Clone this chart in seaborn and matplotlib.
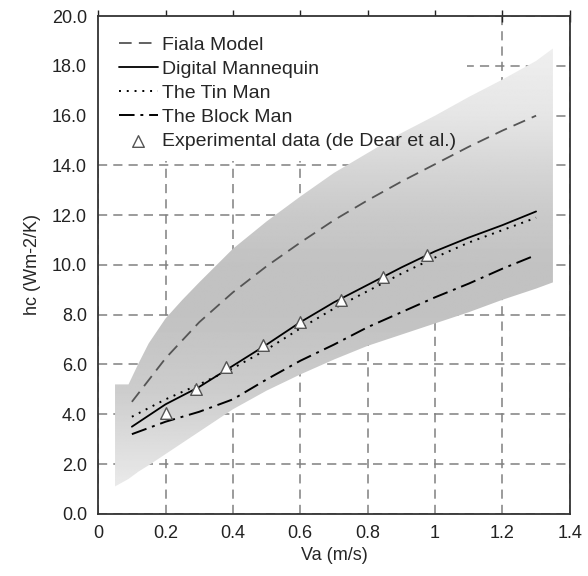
import numpy as np
import matplotlib
matplotlib.use("Agg")
import matplotlib.pyplot as plt
from matplotlib.patches import Rectangle
from matplotlib.ticker import FuncFormatter, MultipleLocator
import seaborn as sns

# Air velocity grid used by the model curves (m/s)
va = [0.1, 0.2, 0.3, 0.4, 0.5, 0.6, 0.7, 0.8, 0.9, 1.0, 1.1, 1.2, 1.3]

# Convective heat transfer coefficient
hc_fiala = [4.5, 6.25, 7.7, 8.9, 9.95, 10.9, 11.8, 12.6, 13.35, 14.05, 14.75, 15.4, 16.0]
hc_digital = [3.5, 4.4, 5.1, 5.95, 6.8, 7.7, 8.5, 9.2, 9.9, 10.55, 11.1, 11.6, 12.15]
hc_tin = [3.9, 4.6, 5.2, 5.85, 6.6, 7.45, 8.25, 8.95, 9.65, 10.3, 10.9, 11.4, 11.9]
hc_block = [3.2, 3.7, 4.1, 4.6, 5.4, 6.15, 6.8, 7.5, 8.1, 8.7, 9.25, 9.85, 10.4]

# Experimental data (de Dear et al.)
va_exp = [0.2, 0.29, 0.38, 0.49, 0.6, 0.72, 0.845, 0.975]
hc_exp = [4.05, 5.0, 5.9, 6.8, 7.7, 8.6, 9.5, 10.4]

# Shaded range band
va_band = [0.05, 0.09, 0.12, 0.15, 0.2, 0.25, 0.3, 0.4, 0.5, 0.6, 0.7, 0.8,
           0.9, 1.0, 1.1, 1.2, 1.3, 1.35]
band_low = [1.1, 1.4, 1.7, 1.95, 2.4, 2.85, 3.3, 4.2, 4.95, 5.6, 6.2, 6.75,
            7.2, 7.65, 8.1, 8.6, 9.05, 9.3]
band_high = [5.2, 5.2, 6.05, 6.85, 7.85, 8.6, 9.3, 10.65, 11.75, 12.75, 13.7, 14.5,
             15.3, 16.0, 16.75, 17.45, 18.2, 18.7]

labels = ["Fiala Model", "Digital Mannequin", "The Tin Man", "The Block Man",
          "Experimental data (de Dear et al.)"]

sns.set_style("white")
plt.rcParams["font.family"] = ["Liberation Sans", "DejaVu Sans"]

fig = plt.figure(figsize=(5.88, 5.76), dpi=100)
ax = fig.add_axes([0.167, 0.108, 0.802, 0.864])

# grey band with a vertical gradient, clipped to the band outline
band = ax.fill_between(va_band, band_low, band_high, facecolor="none", edgecolor="none")
ys = np.linspace(0, 20, 400)
stops_y = [1, 3, 5, 8, 10, 12, 14, 16, 19]
stops_g = [0.92, 0.86, 0.80, 0.76, 0.76, 0.79, 0.84, 0.90, 0.94]
grad = np.interp(ys, stops_y, stops_g)[:, None] * np.ones((1, 2))
img = ax.imshow(grad, cmap="gray", vmin=0, vmax=1, origin="lower", aspect="auto",
                extent=[va_band[0], va_band[-1], 0, 20], zorder=1, interpolation="bilinear")
img.set_clip_path(band.get_paths()[0], transform=ax.transData)

sns.lineplot(x=va, y=hc_fiala, ax=ax, color="#555555", lw=1.3,
             linestyle=(0, (7, 4)), label=labels[0], zorder=3)
sns.lineplot(x=va, y=hc_digital, ax=ax, color="black", lw=1.3,
             linestyle="-", label=labels[1], zorder=3)
sns.lineplot(x=va, y=hc_tin, ax=ax, color="black", lw=1.4,
             linestyle=(0, (1, 3)), label=labels[2], zorder=3)
sns.lineplot(x=va, y=hc_block, ax=ax, color="black", lw=1.4,
             linestyle=(0, (8, 3, 1.5, 3)), label=labels[3], zorder=3)
sns.scatterplot(x=va_exp, y=hc_exp, ax=ax, marker="^", s=70, color="white",
                edgecolor="#555555", linewidth=1.0, label=labels[4], zorder=4)

ax.set_xlim(0, 1.4)
ax.set_ylim(0, 20)
ax.xaxis.set_major_locator(MultipleLocator(0.2))
ax.yaxis.set_major_locator(MultipleLocator(2))
ax.xaxis.set_major_formatter(FuncFormatter(lambda v, p: f"{v:g}"))
ax.yaxis.set_major_formatter(FuncFormatter(lambda v, p: f"{v:.1f}"))

ax.set_axisbelow(True)
ax.grid(True, color="#808080", linestyle=(0, (6, 4)), linewidth=1.1)

ax.tick_params(axis="x", which="both", direction="inout", length=9, width=1,
               top=True, labelsize=13, colors="#222222")
ax.tick_params(axis="y", direction="inout", length=9, width=1,
               labelsize=13, colors="#222222")
for side, sp in ax.spines.items():
    sp.set_color("#333333")
    sp.set_linewidth(1.3)

ax.set_xlabel("Va (m/s)", fontsize=13, labelpad=4)
ax.set_ylabel("hc (Wm-2/K)", fontsize=13, labelpad=8)

leg = ax.legend(loc="upper left", frameon=False, fontsize=14, handlelength=2.0,
                handletextpad=0.25, labelspacing=0.33, borderaxespad=0.5,
                borderpad=0.55)
leg.set_zorder(6)

# blank out grid behind the legend
fig.canvas.draw()
bb = leg.get_window_extent().transformed(ax.transAxes.inverted())
ax.add_patch(Rectangle((0, bb.y0), bb.x1, 1 - bb.y0, transform=ax.transAxes,
                       facecolor="white", edgecolor="none", zorder=0.8))

fig.savefig("out.png", dpi=100)
